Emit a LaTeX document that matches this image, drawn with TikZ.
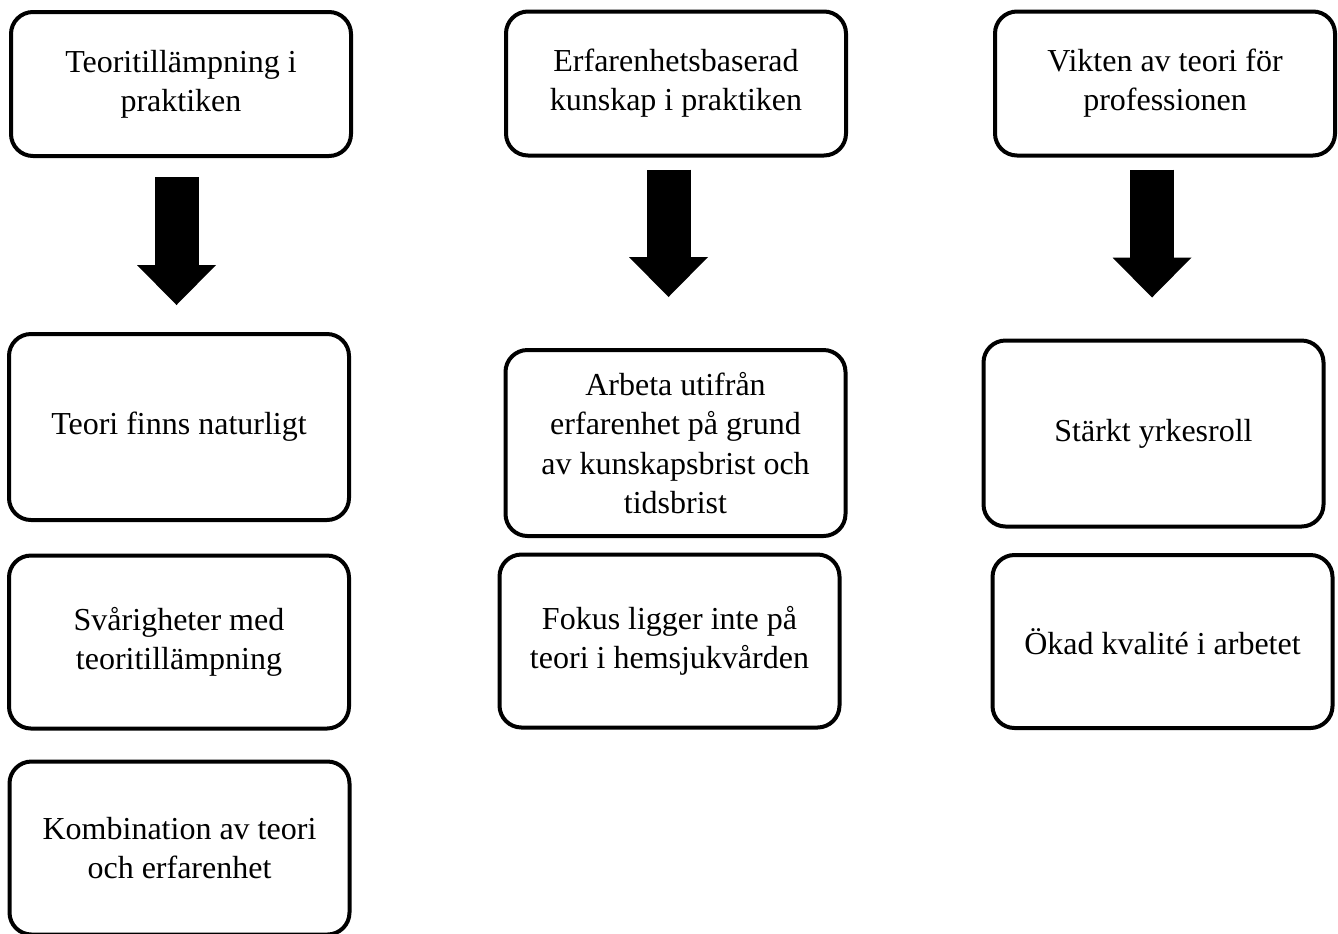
\documentclass[tikz,border=0pt]{standalone}
\usepackage{fontspec}
\setmainfont{Liberation Serif}
\usetikzlibrary{arrows.meta}

\begin{document}
\begin{tikzpicture}[
            x=0.5pt, y=-0.5pt,
            every node/.style = {shape=rectangle, rounded corners=11pt, draw=black, line width=2pt, inner sep=0pt, minimum width=170pt, align=center, font=\fontsize{16pt}{19.6pt}\selectfont},
            topbox/.style = {minimum height=72pt},
            midbox/.style = {minimum height=93pt},
            lowbox/.style = {minimum height=86.5pt},
            bigarrow/.style = {line width=22pt, -{Triangle[width=39.5pt, length=20pt, line width=0pt]}}
          ]
          \useasboundingbox (0,0) rectangle (1338,933);
          % column 1
          \node[topbox] (teori) at (181,84) {Teoritillämpning i\\praktiken};
          \node[midbox] (naturligt) at (179,427) {Teori finns naturligt};
          \node[lowbox] (svarigheter) at (179,642) {Svårigheter med\\teoritillämpning};
          \node[lowbox] (kombination) at (179.5,848) {Kombination av teori\\och erfarenhet};
          % column 2
          \node[topbox] (erfarenhet) at (676,83.5) {Erfarenhetsbaserad\\kunskap i praktiken};
          \node[midbox] (arbeta) at (675.5,443) {Arbeta utifrån\\erfarenhet på grund\\av kunskapsbrist och\\tidsbrist};
          \node[lowbox] (fokus) at (669.5,641) {Fokus ligger inte på\\teori i hemsjukvården};
          % column 3
          \node[topbox] (vikten) at (1165,83.5) {Vikten av teori för\\professionen};
          \node[midbox] (yrkesroll) at (1153.5,433.5) {Stärkt yrkesroll};
          \node[lowbox] (kvalite) at (1162.5,641.5) {Ökad kvalité i arbetet};
          % arrows
          \draw[bigarrow, shorten <=9.5pt, shorten >=13.5pt] ([xshift=-2.25pt]teori.south) -- ([xshift=-2.25pt]teori.south |- naturligt.north);
          \draw[bigarrow, shorten <=6pt, shorten >=25.5pt] ([xshift=-3.75pt]erfarenhet.south) -- ([xshift=-3.75pt]erfarenhet.south |- arbeta.north);
          \draw[bigarrow, shorten <=6pt, shorten >=20.5pt] ([xshift=-6.5pt]vikten.south) -- ([xshift=-6.5pt]vikten.south |- yrkesroll.north);
        \end{tikzpicture}
\end{document}
